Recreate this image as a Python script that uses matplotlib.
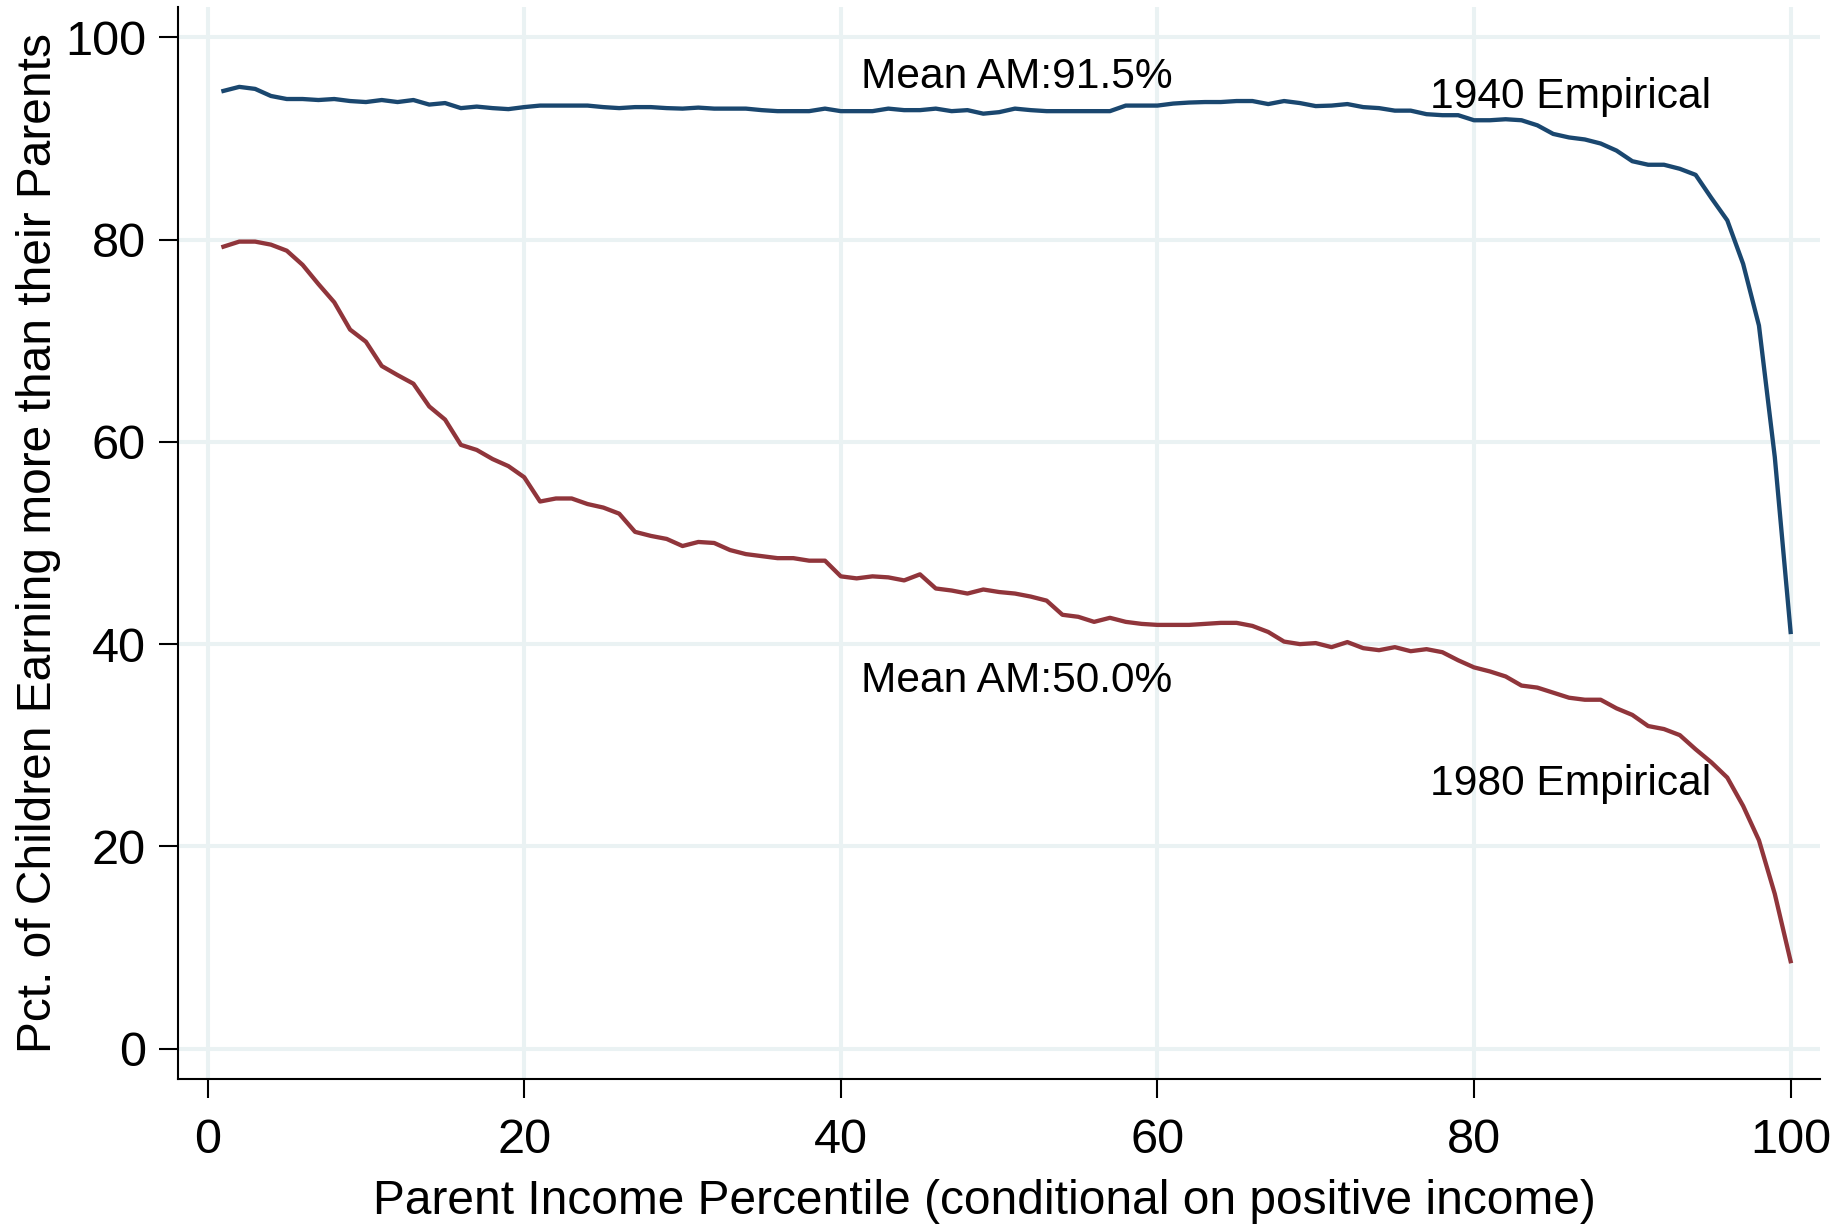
import matplotlib
matplotlib.use("Agg")
import matplotlib.pyplot as plt
import numpy as np

# parent income percentile
pctile = list(range(1, 101))

# 1940 cohort, share of children earning more than parents (%)
am_1940 = [94.7, 95.1, 94.9, 94.2, 93.9, 93.9, 93.8, 93.9, 93.7, 93.6,
           93.8, 93.6, 93.8, 93.35, 93.5, 93.0, 93.15, 93.0, 92.9, 93.1,
           93.25, 93.25, 93.25, 93.25, 93.1, 93.0, 93.1, 93.1, 93.0, 92.95,
           93.05, 92.95, 92.95, 92.95, 92.8, 92.7, 92.7, 92.7, 92.95, 92.7,
           92.7, 92.7, 92.95, 92.8, 92.8, 92.95, 92.7, 92.8, 92.45, 92.6,
           92.95, 92.8, 92.7, 92.7, 92.7, 92.7, 92.7, 93.25, 93.25, 93.25,
           93.45, 93.55, 93.6, 93.6, 93.7, 93.7, 93.4, 93.7, 93.5, 93.2,
           93.25, 93.4, 93.1, 93.0, 92.75, 92.75, 92.4, 92.3, 92.3, 91.8,
           91.8, 91.9, 91.8, 91.3, 90.45, 90.1, 89.9, 89.5, 88.8, 87.75,
           87.4, 87.4, 87.0, 86.4, 84.1, 81.9, 77.6, 71.5, 58.5, 41.2]

# 1980 cohort
am_1980 = [79.3, 79.8, 79.8, 79.5, 78.9, 77.5, 75.6, 73.8, 71.1, 69.9,
           67.5, 66.6, 65.75, 63.5, 62.2, 59.7, 59.2, 58.3, 57.6, 56.5,
           54.1, 54.4, 54.4, 53.85, 53.5, 52.9, 51.1, 50.7, 50.4, 49.7,
           50.1, 50.0, 49.3, 48.9, 48.7, 48.5, 48.5, 48.25, 48.25, 46.7,
           46.5, 46.7, 46.6, 46.3, 46.9, 45.5, 45.3, 45.0, 45.4, 45.15,
           45.0, 44.7, 44.3, 42.9, 42.7, 42.2, 42.6, 42.2, 42.0, 41.9,
           41.9, 41.9, 42.0, 42.1, 42.1, 41.8, 41.2, 40.25, 40.0, 40.1,
           39.7, 40.2, 39.6, 39.4, 39.7, 39.3, 39.5, 39.2, 38.4, 37.7,
           37.3, 36.8, 35.9, 35.7, 35.2, 34.7, 34.5, 34.5, 33.65, 33.0,
           31.9, 31.6, 31.0, 29.6, 28.3, 26.8, 24.0, 20.6, 15.3, 8.65]

ticks = [0, 20, 40, 60, 80, 100]

plt.rcParams['font.family'] = ['Liberation Sans', 'DejaVu Sans']

fig = plt.figure(figsize=(18.39, 12.25), dpi=100)
ax = fig.add_axes([0.0968, 0.1192, 0.8929, 0.8751])

grid_col = '#eaf2f3'
ax.plot(pctile, am_1940, color='#1a476f', lw=3.1, zorder=3)
ax.plot(pctile, am_1980, color='#90353b', lw=3.1, zorder=3)

ax.set_xlim(-1.87, 101.86)
ax.set_ylim(-3.0, 103.0)
ax.set_xticks(ticks)
ax.set_yticks(ticks)
ax.grid(True, color=grid_col, lw=2.9)
ax.set_axisbelow(True)

for s in ['top', 'right']:
    ax.spines[s].set_visible(False)
for s in ['left', 'bottom']:
    ax.spines[s].set_linewidth(1.5)

ax.tick_params(axis='both', labelsize=35, length=14, width=1.5)
ax.tick_params(axis='y', pad=9)
ax.tick_params(axis='x', pad=14)

ax.set_xlabel('Parent Income Percentile (conditional on positive income)', fontsize=34.5)
ax.set_ylabel('Pct. of Children Earning more than their Parents', fontsize=34.5)
ax.xaxis.set_label_coords(0.491, -0.093)
ax.yaxis.set_label_coords(-0.071, 0.5)

ax.text(41.3, 96.05, 'Mean AM:91.5%', fontsize=30.6, va='center', ha='left')
ax.text(41.3, 36.4, 'Mean AM:50.0%', fontsize=30.6, va='center', ha='left')
ax.text(77.2, 94.05, '1940 Empirical', fontsize=30.6, va='center', ha='left')
ax.text(77.2, 26.2, '1980 Empirical', fontsize=30.6, va='center', ha='left')

fig.savefig('out.png', dpi=100)
